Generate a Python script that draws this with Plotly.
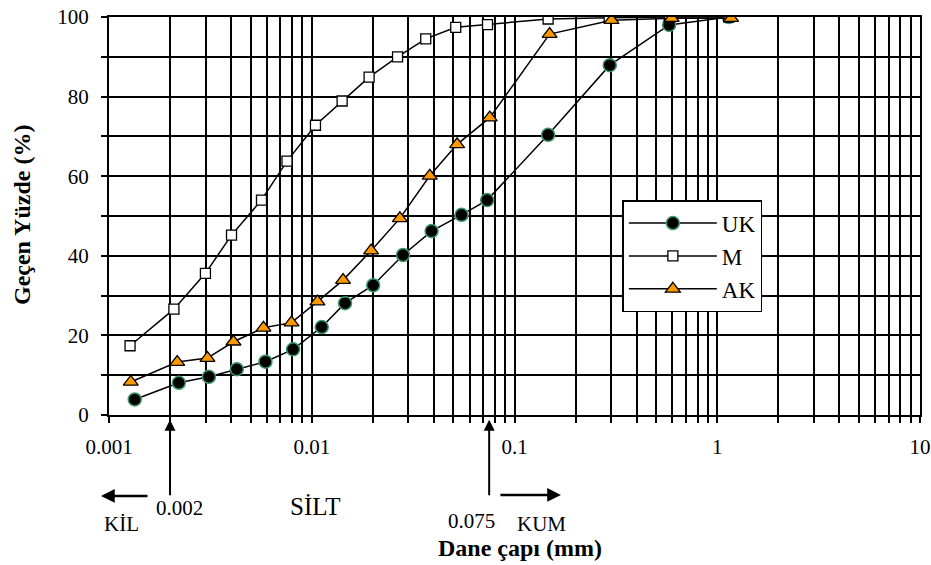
import numpy as np
import plotly.graph_objects as go

# ---- data ----
uk_d = [0.00134, 0.00221, 0.00311, 0.00427, 0.00591, 0.00809, 0.0112, 0.0146, 0.0201,
        0.0282, 0.0390, 0.0548, 0.0733, 0.1465, 0.295, 0.579, 1.14]
uk_p = [3.9, 8.1, 9.6, 11.5, 13.4, 16.5, 22.1, 28.1, 32.6,
        40.2, 46.2, 50.3, 54.0, 70.4, 87.9, 98.0, 100.0]

m_d = [0.00127, 0.00209, 0.00299, 0.00402, 0.00565, 0.00755, 0.01043, 0.01412, 0.01918,
       0.0265, 0.0365, 0.0513, 0.0736, 0.1465, 0.293, 0.58, 1.14]
m_p = [17.4, 26.6, 35.6, 45.2, 54.0, 63.8, 72.8, 78.9, 84.9,
       90.0, 94.5, 97.4, 98.1, 99.5, 99.8, 100.0, 100.0]

ak_d = [0.00128, 0.00217, 0.00306, 0.00411, 0.00578, 0.00794, 0.01067, 0.01427, 0.01962,
        0.0272, 0.0382, 0.0521, 0.0755, 0.149, 0.301, 0.596, 1.17]
ak_p = [8.3, 13.3, 14.3, 18.4, 21.9, 23.2, 28.5, 33.9, 41.3,
        49.4, 60.1, 68.0, 74.7, 95.7, 99.2, 99.7, 99.7]

x_tickvals = [0.001, 0.01, 0.1, 1, 10]
x_ticktext = ["0.001", "0.01", "0.1", "1", "10"]
y_tickvals = [0, 20, 40, 60, 80, 100]

clay_silt = 0.002
silt_sand = 0.075

FONT = "Liberation Serif"

fig = go.Figure()
fig.add_trace(go.Scatter(
    x=uk_d, y=uk_p, name="UK", mode="lines+markers",
    line=dict(color="black", width=1.5),
    marker=dict(symbol="circle", size=13, color="black",
                line=dict(color="#3a9a6a", width=1.5))))
fig.add_trace(go.Scatter(
    x=m_d, y=m_p, name="M", mode="lines+markers",
    line=dict(color="black", width=1.5),
    marker=dict(symbol="square", size=10, color="white",
                line=dict(color="black", width=1.3))))
fig.add_trace(go.Scatter(
    x=ak_d, y=ak_p, name="AK", mode="lines+markers",
    line=dict(color="black", width=1.5),
    marker=dict(symbol="triangle-up", size=13, color="#ff9900",
                line=dict(color="black", width=1.3))))

fig.update_layout(
    width=931, height=565,
    margin=dict(l=109, r=11, t=17, b=150),
    paper_bgcolor="white", plot_bgcolor="white",
    font=dict(family=FONT, size=21, color="black"),
    showlegend=True,
    legend=dict(x=0.633, y=0.54, xanchor="left", yanchor="top",
                bgcolor="white", bordercolor="black", borderwidth=1.5,
                font=dict(family=FONT, size=23, color="black"),
                itemwidth=88, tracegroupgap=0),
)

fig.update_xaxes(
    type="log", range=[-3, 1], automargin=False,
    tickvals=x_tickvals, ticktext=x_ticktext,
    ticks="outside", ticklen=6, tickwidth=2, tickcolor="black",
    ticklabelstandoff=6,
    showgrid=True, gridcolor="black", gridwidth=1.8,
    showline=True, linecolor="black", linewidth=2, mirror=True,
    zeroline=False,
    tickfont=dict(family=FONT, size=21),
    minor=dict(dtick="D1", showgrid=True, gridcolor="black", gridwidth=1.8,
               ticks="outside", ticklen=6, tickwidth=2, tickcolor="black"),
)
fig.update_yaxes(
    range=[0, 100], tickvals=y_tickvals, automargin=False,
    ticks="outside", ticklen=6, tickwidth=2, tickcolor="black",
    ticklabelstandoff=8,
    showgrid=True, gridcolor="black", gridwidth=1.8,
    showline=True, linecolor="black", linewidth=2, mirror=True,
    zeroline=False,
    tickfont=dict(family=FONT, size=21),
    minor=dict(dtick=10, showgrid=True, gridcolor="black", gridwidth=1.8,
               ticks="outside", ticklen=6, tickwidth=2, tickcolor="black"),
)

ann = []
# axis titles
ann.append(dict(text="<b>Dane çapı (mm)</b>", xref="paper", yref="paper",
                x=0.507, y=-0.334, showarrow=False, xanchor="center", yanchor="middle",
                font=dict(family=FONT, size=24)))
ann.append(dict(text="<b>Geçen Yüzde (%)</b>", xref="paper", yref="paper",
                x=-0.107, y=0.503, showarrow=False, textangle=-90,
                xanchor="center", yanchor="middle",
                font=dict(family=FONT, size=24)))
# boundary arrows
for b in (clay_silt, silt_sand):
    ann.append(dict(text="", x=np.log10(b), xref="x", y=-0.012, yref="paper",
                    showarrow=True, ax=0, ay=77, arrowhead=2, arrowsize=1.1,
                    arrowwidth=2, arrowcolor="black"))
# KİL arrow (pointing left)
ann.append(dict(text="", x=-0.0099, xref="paper", y=-0.2035, yref="paper",
                showarrow=True, ax=48, ay=0, arrowhead=2, arrowsize=1.1,
                arrowwidth=2.5, arrowcolor="black"))
# KUM arrow (pointing right)
ann.append(dict(text="", x=-0.771, xref="x", y=-0.201, yref="paper",
                showarrow=True, ax=-62, ay=0, arrowhead=2, arrowsize=1.1,
                arrowwidth=2.5, arrowcolor="black"))
# labels
labels = [("0.002", -2.651, -0.234, 21), ("KİL", -2.94, -0.274, 21),
          ("SİLT", -1.983, -0.230, 25), ("0.075", -1.211, -0.266, 21),
          ("KUM", -0.868, -0.274, 21)]
for t, xl, yp, fs in labels:
    ann.append(dict(text=t, x=xl, xref="x", y=yp, yref="paper", showarrow=False,
                    xanchor="center", yanchor="middle",
                    font=dict(family=FONT, size=fs)))

fig.update_layout(annotations=ann)
fig.write_html("out.html", config={"displayModeBar": False},
               post_script="document.body.style.margin='0px';")
